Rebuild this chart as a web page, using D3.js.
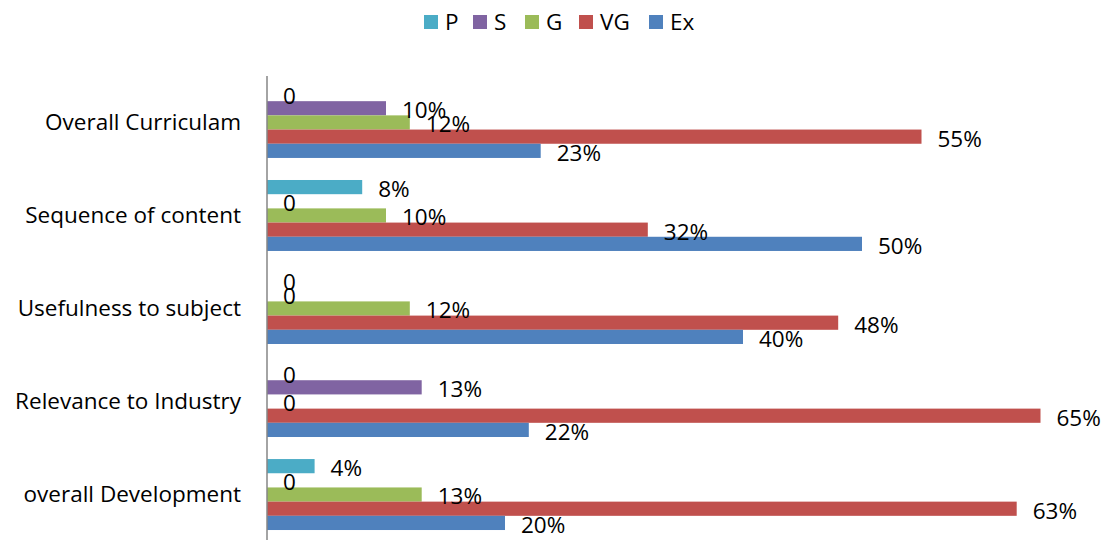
<!DOCTYPE html>
<html>
<head>
<meta charset="utf-8">
<script src="https://cdn.jsdelivr.net/npm/d3@7/dist/d3.min.js"></script>
<style>
  body { margin: 0; background: #fff; }
  text { font-family: "Open Sans", "Noto Sans", sans-serif; fill: #000; }
</style>
</head>
<body>
<script>
// Data (percent)
var categories = ["Overall Curriculam", "Sequence of content", "Usefulness to subject", "Relevance to Industry", "overall Development"];
var seriesNames = ["P", "S", "G", "VG", "Ex"];
var seriesColors = ["#4BACC6", "#8064A2", "#9BBB59", "#C0504D", "#4F81BD"];
var valuesP  = [0, 8, 0, 0, 4];
var valuesS  = [10, 0, 0, 13, 0];
var valuesG  = [12, 10, 12, 0, 13];
var valuesVG = [55, 32, 48, 65, 63];
var valuesEx = [23, 50, 40, 22, 20];

var allSeries = [valuesP, valuesS, valuesG, valuesVG, valuesEx];

var width = 1109, height = 540;
var fontSize = "22.5px";
var svg = d3.select(document.body).append("svg")
  .attr("width", width).attr("height", height);

// scales
var x = d3.scaleLinear().domain([0, 70]).range([267, 1100]);
var y0 = d3.scaleBand().domain(categories).range([76, 541]).paddingInner(0.237).paddingOuter(0.118);
var y1 = d3.scaleBand().domain(seriesNames).range([0, y0.bandwidth()]);

// build rows
var rows = [];
categories.forEach(function(c, i) {
  seriesNames.forEach(function(s, j) {
    rows.push({cat: c, series: s, color: seriesColors[j], value: allSeries[j][i]});
  });
});

var g = svg.append("g");

g.selectAll("rect.bar")
  .data(rows)
  .enter().append("rect")
  .attr("class", "bar")
  .attr("x", x(0))
  .attr("y", function(d) { return y0(d.cat) + y1(d.series); })
  .attr("width", function(d) { return x(d.value) - x(0); })
  .attr("height", y1.bandwidth())
  .attr("fill", function(d) { return d.color; });

// data labels
g.selectAll("text.lbl")
  .data(rows)
  .enter().append("text")
  .attr("class", "lbl")
  .attr("x", function(d) { return x(d.value) + 16; })
  .attr("y", function(d) { return y0(d.cat) + y1(d.series) + y1.bandwidth() / 2 + 2; })
  .attr("dy", "0.35em")
  .style("font-size", fontSize)
  .text(function(d) { return d.value === 0 ? "0" : d.value + "%"; });

// vertical axis
var yAxis = d3.axisLeft(y0).tickSize(0).tickPadding(26);
var ax = svg.append("g")
  .attr("transform", "translate(267,0)")
  .call(yAxis);
ax.select(".domain").attr("stroke", "#868686").attr("stroke-width", 1.5)
  .attr("d", "M0,76V541");
ax.selectAll(".tick text")
  .style("font-size", fontSize)
  .style("font-family", "'Open Sans', sans-serif")
  .attr("fill", "#000");

// legend
var legendX = [424, 473, 525, 579, 649];
var legend = svg.append("g").selectAll("g")
  .data(seriesNames)
  .enter().append("g")
  .attr("transform", function(d, i) { return "translate(" + legendX[i] + ",15)"; });
legend.append("rect")
  .attr("width", 14).attr("height", 14)
  .attr("fill", function(d, i) { return seriesColors[i]; });
legend.append("text")
  .attr("x", 21).attr("y", 7).attr("dy", "0.35em")
  .style("font-size", fontSize)
  .text(function(d) { return d; });
</script>
</body>
</html>
